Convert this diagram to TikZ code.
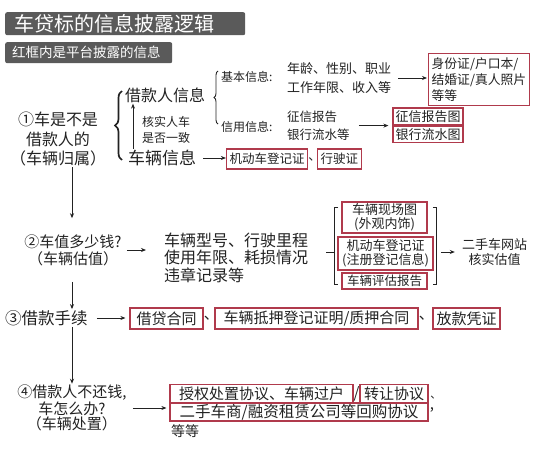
\documentclass[tikz,border=0pt]{standalone}
\usepackage{fontspec}
\setmainfont{Noto Sans CJK SC}
\usetikzlibrary{arrows.meta,decorations.pathreplacing,fit}
\definecolor{ink}{HTML}{222222}
\definecolor{redc}{HTML}{B03A4C}
\definecolor{bar}{HTML}{5A5A5A}
\newcommand\myfs[2]{\fontsize{#1pt}{#2pt}\selectfont}
\tikzset{
  txt/.style={inner sep=1pt, text=ink, align=center},
  rbox/.style={draw=redc, line width=1.2pt, fill=white, inner xsep=2.5pt, inner ysep=1pt, text=ink, align=center},
  arr/.style={draw=ink, line width=0.8pt, -{Stealth[length=5pt,width=4pt]}},
  lin/.style={draw=ink, line width=0.9pt},
  bar/.style={fill=bar, rounded corners=2pt, anchor=north west, inner ysep=0pt, align=left, text=white},
}
\begin{document}
\begin{tikzpicture}[x=1pt,y=-1pt]
\useasboundingbox (0,0) rectangle (533,450);
\fill[white] (0,0) rectangle (533,450);

% title bars
\node[bar, minimum width=240pt, minimum height=23pt, inner xsep=9pt, text width=222pt, font=\myfs{20}{22}] (title) at (5,12) {车贷标的信息披露逻辑};
\node[bar, minimum width=167pt, minimum height=21pt, inner xsep=7pt, text width=153pt, font=\myfs{13.5}{15}] (sub) at (5,42) {红框内是平台披露的信息};

% ---------- section 1
\node[txt, font=\myfs{16}{19.5}] (s1) at (58,139) {①车是不是\\借款人的\\（车辆归属）};
\draw[ink, line width=1.7pt, decorate, decoration={brace, amplitude=7pt}] (122,160) -- (122,91);
\node[txt, font=\myfs{16}{19}] (pinfo) at (165,95) {借款人信息};
\node[txt, font=\myfs{17}{19}] (carinfo) at (162,158) {车辆信息};
\node[txt, font=\myfs{12}{16}] (check) at (166,130) {核实人车\\是否一致};
\coordinate (ax1) at (133,0);
\draw[arr] (carinfo.north -| ax1) -- (pinfo.south -| ax1);

\draw[ink, line width=0.9pt, decorate, decoration={brace, amplitude=4pt}] (218,124) -- (218,71);
\node[txt, anchor=west, font=\myfs{12}{14}] (basic) at (220,77) {基本信息:};
\node[txt, anchor=west, align=left, font=\myfs{13}{18.5}] (basicd) at (286,78) {年龄、性别、职业\\工作年限、收入等};
\node[rbox, anchor=north west, align=left, font=\myfs{12.8}{16}, minimum width=100pt, minimum height=52pt, inner xsep=3pt] (idb) at (428,53) {身份证/户口本/\\结婚证/真人照片\\等等};
\draw[arr, shorten <=6pt, shorten >=1pt] (basicd.east) -- (basicd.east -| idb.west);

\node[txt, anchor=west, font=\myfs{12}{14}] (credit) at (220,127) {信用信息:};
\node[txt, anchor=west, align=left, font=\myfs{12.5}{18}] (creditd) at (286,126) {征信报告\\银行流水等};
\node[rbox, font=\myfs{13}{15}, minimum width=70pt, minimum height=17pt, inner ysep=0pt] (cr1) at (428,116.5) {征信报告图};
\node[rbox, font=\myfs{13}{15}, minimum width=70pt, minimum height=16pt, inner ysep=0pt] (cr2) at (428,134.5) {银行流水图};
\draw[arr, shorten <=8pt] (creditd.east |- cr1.south) -- ([xshift=-4pt]cr1.south west);

\node[rbox, font=\myfs{12.5}{14}, minimum height=20pt, inner xsep=3pt] (reg1) at (267,159) {机动车登记证};
\node[txt, anchor=west, inner sep=0pt, font=\myfs{12.5}{14}] (dreg) at (reg1.east) {、};
\node[rbox, font=\myfs{12.5}{14}, minimum height=20pt, inner xsep=3pt, anchor=west] (reg2) at ([xshift=9pt]reg1.east) {行驶证};
\draw[arr, shorten <=6pt] (carinfo.east) -- (carinfo.east -| reg1.west);

% ---------- section 2
\node[txt, font=\myfs{15}{17}] (s2) at (73,250) {②车值多少钱?\\（车辆估值）};
\coordinate (ax) at (72,0);
\draw[arr, shorten >=15pt] (s1.south -| ax) -- (s2.north -| ax);
\node[txt, anchor=west, align=left, font=\myfs{16}{17.5}] (vdet) at (163,257.5) {车辆型号、行驶里程\\使用年限、耗损情况\\违章记录等};
\draw[arr, shorten <=4pt, shorten >=17pt] (s2.east) -- (s2.east -| vdet.west);

\node[rbox, font=\myfs{13}{14.5}, minimum width=85pt, minimum height=31pt] (v1) at (384.5,217.5) {车辆现场图\\(外观内饰)};
\node[rbox, font=\myfs{13}{14.5}, minimum width=95pt, minimum height=33pt] (v2) at (385.5,253.5) {机动车登记证\\(注册登记信息)};
\node[rbox, font=\myfs{12.5}{14}, minimum width=85pt, minimum height=16pt, inner ysep=0pt] (v3) at (384.5,281) {车辆评估报告};
\node[fit=(v1)(v2)(v3), inner xsep=3pt, inner ysep=0pt] (grp) {};
\node[txt, font=\myfs{13}{15}] (site) at (494.5,252) {二手车网站\\核实估值};
\draw[lin] ([xshift=4pt,yshift=-6pt]grp.north west) -- ([yshift=-6pt]grp.north west) -- ([yshift=5pt]grp.south west) -- ([xshift=4pt,yshift=5pt]grp.south west);
\draw[lin] ([xshift=-4pt,yshift=-6pt]grp.north east) -- ([yshift=-6pt]grp.north east) -- ([yshift=5pt]grp.south east) -- ([xshift=-4pt,yshift=5pt]grp.south east);
\draw[lin] ([xshift=-8pt]grp.west |- site.west) -- (grp.west |- site.west);
\draw[arr, shorten <=4pt, shorten >=6pt] (grp.east |- site.west) -- (site.west);

% ---------- section 3
\node[txt, anchor=west, font=\myfs{16.5}{19}] (s3) at (4,318) {③借款手续};
\draw[arr, shorten <=15pt] (s2.south -| ax) -- (s3.north -| ax);
\node[rbox, font=\myfs{15}{17}, minimum width=73pt, minimum height=21pt] (c1) at (166.5,318.5) {借贷合同};
\node[txt, anchor=west, inner sep=0pt, font=\myfs{15}{17}] (dc1) at (c1.east) {、};
\node[rbox, font=\myfs{15}{17}, minimum width=203pt, minimum height=21pt] (c2) at (316.5,318.5) {车辆抵押登记证明/质押合同};
\node[txt, anchor=west, inner sep=0pt, font=\myfs{15}{17}] (dc2) at (c2.east) {、};
\node[rbox, font=\myfs{15}{17}, minimum width=67pt, minimum height=21pt] (c3) at (466.5,318.5) {放款凭证};
\draw[arr, shorten <=8pt, shorten >=4pt] (s3.east) -- (s3.east -| c1.west);

% ---------- section 4
\node[txt, font=\myfs{15}{15.5}] (s4) at (72,408) {④借款人不还钱,\\车怎么办?\\（车辆处置）};
\draw[arr] (s3.south -| ax) -- (s4.north -| ax);
\node[rbox, font=\myfs{15}{16}, minimum width=183pt, minimum height=18pt, inner ysep=0pt, inner xsep=1pt] (r1a) at (261.5,393.5) {授权处置协议、车辆过户};
\node[txt, inner sep=0pt, font=\myfs{15}{16}] (sl) at (356.5,393.5) {/};
\node[rbox, font=\myfs{15}{16}, minimum width=68pt, minimum height=18pt, inner ysep=0pt, inner xsep=1pt] (r1b) at (394,393.5) {转让协议};
\node[txt, anchor=south west, inner sep=0pt, font=\myfs{11}{11}] (dr1) at ([xshift=1.5pt,yshift=4pt]r1b.south east) {、};
\node[rbox, font=\myfs{15.5}{16}, minimum width=258pt, minimum height=18pt, inner ysep=0pt, inner xsep=1pt] (r2) at (299,412) {二手车商/融资租赁公司等回购协议};
\node[txt, anchor=west, inner sep=1pt, font=\myfs{15}{16}] (dr2) at ([yshift=2pt]r2.east) {,};
\node[txt, anchor=west, font=\myfs{14}{15}] (etc) at (170,431) {等等};
\draw[arr, shorten <=5pt, shorten >=3pt] (s4.east) -- (s4.east -| r2.west);
\end{tikzpicture}
\end{document}
